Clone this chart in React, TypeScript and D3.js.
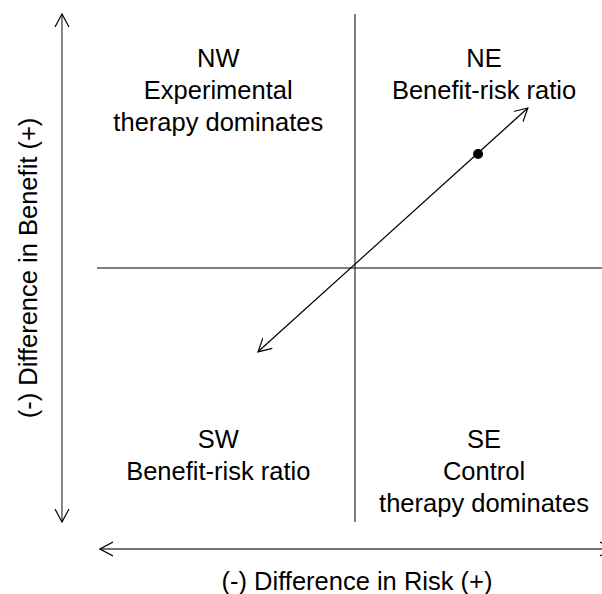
import * as d3 from 'd3';
import React from 'react';

// quadrant labels, positions in data units (-1..1 on both axes)
const quadrants = [
    {name: 'NW', x: -0.53, y: 0.79, lines: ['NW', 'Experimental', 'therapy dominates']},
    {name: 'NE', x: 0.5, y: 0.79, lines: ['NE', 'Benefit-risk ratio']},
    {name: 'SW', x: -0.53, y: -0.71, lines: ['SW', 'Benefit-risk ratio']},
    {name: 'SE', x: 0.5, y: -0.71, lines: ['SE', 'Control', 'therapy dominates']},
];

// ratio line through the origin, and the observed point on it
const ratioLine = [[-0.376, -0.33], [0.67, 0.63]];
const observed = [[0.477, 0.449]];

const xLabel = '(-) Difference in Risk (+)';
const yLabel = '(-) Difference in Benefit (+)';

const width = 602, height = 594;
const font = '"Liberation Sans", Arial, sans-serif';
const fontSize = 25.5;

export default function App() {
    const x = d3.scaleLinear().domain([-1, 1]).range([97, 613]);
    const y = d3.scaleLinear().domain([-1, 1]).range([522, 14]);
    const line = d3.line().x((d) => x(d[0])).y((d) => y(d[1]));

    return (
        <svg width={width} height={height}
            style={{position: 'absolute', left: 0, top: 0, background: 'white'}}>
            <defs>
                <marker id="open" viewBox="0 0 14 16" refX="13" refY="8"
                    markerWidth="14" markerHeight="16" markerUnits="userSpaceOnUse"
                    orient="auto-start-reverse">
                    <path d="M0,1 L13,8 L0,15" fill="none" stroke="black" strokeWidth="1.2" />
                </marker>
            </defs>

            {/* quadrant dividers */}
            <line x1={x(0)} x2={x(0)} y1={y(1)} y2={y(-1)} stroke="black" strokeWidth={1} />
            <line x1={x(-1)} x2={x(1)} y1={y(0)} y2={y(0)} stroke="black" strokeWidth={1} />

            {/* axis arrows */}
            <line x1={62} x2={62} y1={y(1)} y2={y(-1)} stroke="#444" strokeWidth={1.3}
                markerStart="url(#open)" markerEnd="url(#open)" />
            <line x1={x(-1) + 3} x2={x(1)} y1={549} y2={549} stroke="#444" strokeWidth={1.3}
                markerStart="url(#open)" markerEnd="url(#open)" />

            {/* benefit-risk line */}
            <path d={line(ratioLine)} fill="none" stroke="black" strokeWidth={1.2}
                markerStart="url(#open)" markerEnd="url(#open)" />
            {observed.map((d, i) => (
                <circle key={i} cx={x(d[0])} cy={y(d[1])} r={5} fill="black" />
            ))}

            {quadrants.map((q) => (
                <text key={q.name} x={x(q.x)} y={y(q.y)} textAnchor="middle"
                    fontFamily={font} fontSize={fontSize} fill="black">
                    {q.lines.map((t, i) => (
                        <tspan key={i} x={x(q.x)} dy={i == 0 ? 0 : 32}>{t}</tspan>
                    ))}
                </text>
            ))}

            <text x={x(0) + 2} y={590} textAnchor="middle" fontFamily={font} fontSize={fontSize}>{xLabel}</text>
            <text transform={`translate(37,${y(0)}) rotate(-90)`} textAnchor="middle"
                fontFamily={font} fontSize={fontSize}>{yLabel}</text>
        </svg>
    );
}
